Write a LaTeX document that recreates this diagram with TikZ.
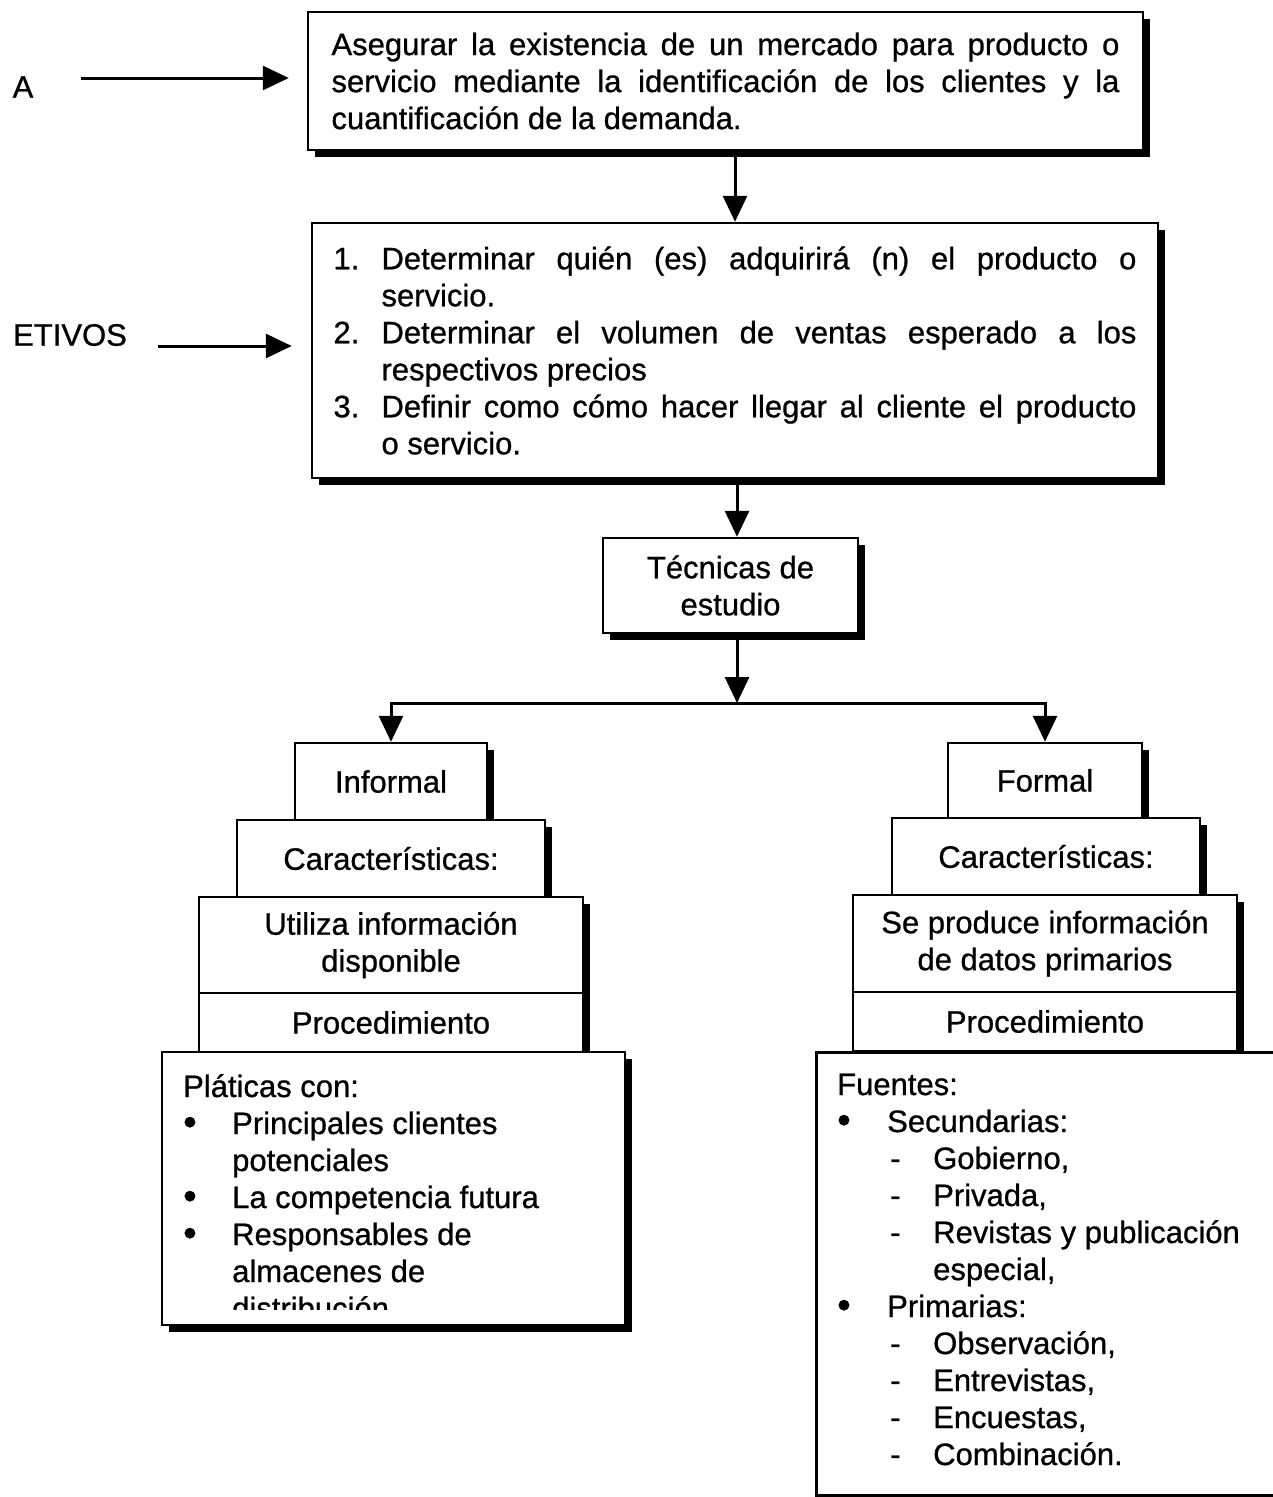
\documentclass[tikz,border=0pt]{standalone}
\usepackage{fontspec}
\setmainfont{Liberation Sans}[UprightFeatures={FakeBold=0.8}]
\usepackage{tikz}
\usetikzlibrary{arrows.meta, positioning, calc, shadows}

\begin{document}
\begin{tikzpicture}[x=1pt, y=-1pt]

% ---- Styles -------------------------------------------------------------------
\tikzset{
  every node/.style={font=\fontsize{31}{37}\selectfont},
  box/.style={draw, line width=2.5pt, fill=white, inner sep=0pt, align=left,
    drop shadow={shadow xshift=7pt, shadow yshift=-7pt, fill=black, opacity=1}},
  cbox/.style={box, align=center},
  txt/.style={inner sep=0pt, align=left},
  lbl/.style={inner sep=0pt},
  arr/.style={line width=3pt, -{Triangle[length=26pt, width=24pt]}},
}

\def\IW{48pt}  % item indent, objectives
\def\BW{49pt}  % bullet indent, lists
\newcommand{\bul}{\raisebox{-1pt}{\scalebox{1.25}{\textbullet}}}

% ---- Page frame ---------------------------------------------------------------
\useasboundingbox (0,0) rectangle (1273,1497);
\clip (0,0) rectangle (1273,1497);

% ---- Top: purpose and objectives ----------------------------------------------
\node[box, minimum width=835pt, minimum height=138pt] (mkt) at (725.5,81)
  {\makebox[788pt][s]{Asegurar la existencia de un mercado para producto o}\\
   \makebox[788pt][s]{servicio mediante la identificación de los clientes y la}\\
   cuantificación de la demanda.};

\node[box, minimum width=846pt, minimum height=255pt] (obj) at (735,350.5)
  {\makebox[\IW][l]{1.}\makebox[755pt][s]{Determinar quién (es) adquirirá (n) el producto o}\\
   \hspace*{\IW}servicio.\\
   \makebox[\IW][l]{2.}\makebox[755pt][s]{Determinar el volumen de ventas esperado a los}\\
   \hspace*{\IW}respectivos precios\\
   \makebox[\IW][l]{3.}\makebox[755pt][s]{Definir como cómo hacer llegar al cliente el producto}\\
   \hspace*{\IW}o servicio.};

\node[lbl] (lblA) at (23,87) {A};
\node[lbl] (lblB) at (70,335) {ETIVOS};

\node[cbox, minimum width=255pt, minimum height=95pt] (tec) at (730.5,585.5)
  {Técnicas de\\estudio};

% ---- Left branch: informal ----------------------------------------------------
\node[cbox, minimum width=192pt, minimum height=77pt] (inf) at (391,781.5) {Informal};
\node[cbox, minimum width=308pt, minimum height=77pt] (carL) at (391,858.5) {Características:};
\node[cbox, minimum width=384pt, minimum height=96pt] (useL) at (391,945)
  {Utiliza información\\disponible};
\node[cbox, minimum width=384pt, minimum height=59pt] (procL) at (391,1022.5) {Procedimiento};
\node[box, minimum width=463pt, minimum height=273pt] (plat) at (393.5,1188.5) {};
\begin{scope}
  \clip (plat.north west) rectangle ([yshift=17pt]plat.south east);
  % baseline of the last line
  \node[txt, anchor=base west] (platTxt) at (183,1319)
    {Pláticas con:\\
     \makebox[\BW][l]{\bul}Principales clientes\\
     \hspace*{\BW}potenciales\\
     \makebox[\BW][l]{\bul}La competencia futura\\
     \makebox[\BW][l]{\bul}Responsables de\\
     \hspace*{\BW}almacenes de\\
     \hspace*{\BW}distribución};
\end{scope}

% ---- Right branch: formal -----------------------------------------------------
\node[cbox, minimum width=194pt, minimum height=75pt] (form) at (1045,780.5) {Formal};
\node[cbox, minimum width=308pt, minimum height=77pt] (carR) at (1046,856.5) {Características:};
\node[cbox, minimum width=384pt, minimum height=97pt] (useR) at (1045,943.5)
  {Se produce información\\de datos primarios};
\node[cbox, minimum width=384pt, minimum height=59pt] (procR) at (1045,1021.5) {Procedimiento};
\node[box, minimum width=490pt, minimum height=443pt, anchor=north west] (fuen) at (815,1051) {};
% baseline of the last line
\node[txt, anchor=base west] (fuenTxt) at (837,1465)
  {Fuentes:\\
   \makebox[50pt][l]{\bul}Secundarias:\\
   \hspace*{53pt}\makebox[43pt][l]{-}Gobierno,\\
   \hspace*{53pt}\makebox[43pt][l]{-}Privada,\\
   \hspace*{53pt}\makebox[43pt][l]{-}Revistas y publicación\\
   \hspace*{96pt}especial,\\
   \makebox[50pt][l]{\bul}Primarias:\\
   \hspace*{53pt}\makebox[43pt][l]{-}Observación,\\
   \hspace*{53pt}\makebox[43pt][l]{-}Entrevistas,\\
   \hspace*{53pt}\makebox[43pt][l]{-}Encuestas,\\
   \hspace*{53pt}\makebox[43pt][l]{-}Combinación.};

% ---- Connectors ---------------------------------------------------------------
\coordinate (split) at (737,703);
\draw[arr] ([xshift=47pt, yshift=9pt]lblA.east) -- ([xshift=-18pt, yshift=3pt]mkt.west);
\draw[arr] ([xshift=31pt, yshift=-11pt]lblB.east) -- ([xshift=-19pt, yshift=4.5pt]obj.west);
\draw[arr] (mkt.south -| obj.north) -- (obj.north);
\draw[arr] (obj.south -| split) -- (tec.north -| split);
\draw[arr] (tec.south -| split) -- (split);
\draw[arr] (split) -| (inf.north);
\draw[arr] (split) -| (form.north);

\end{tikzpicture}
\end{document}
